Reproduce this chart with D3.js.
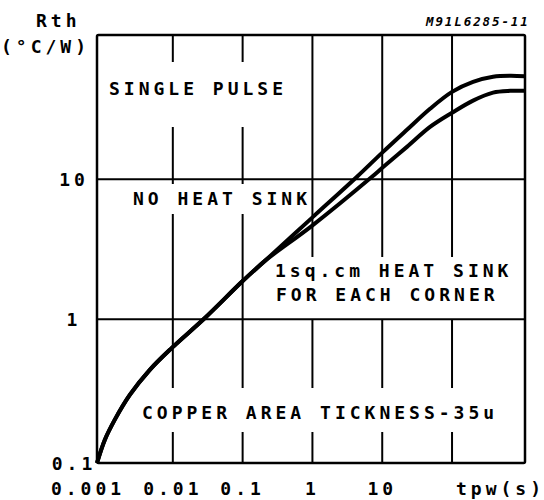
<!DOCTYPE html>
<html><head><meta charset="utf-8">
<script src="https://cdn.jsdelivr.net/npm/d3@7"></script>
<style>body{margin:0;background:#fff}svg{display:block}</style>
</head><body>
<script>
// ---- data ----
const xTickValues = [0.001, 0.01, 0.1, 1, 10];
const xTickLabels = ["0.001", "0.01", "0.1", "1", "10"];
const yTickValues = [0.1, 1, 10];
const yTickLabels = ["0.1", "1", "10"];
const xGridValues = [0.01, 0.1, 1, 10, 100];
const yGridValues = [1, 10];
// pulse time tpw (s) and Rth (°C/W)
const tCommon = [0.00082, 0.00106, 0.00147, 0.00242, 0.00468, 0.00968, 0.0288, 0.101, 0.209];
const rCommon = [0.094, 0.1374, 0.191, 0.288, 0.435, 0.624, 1.02, 1.88, 2.61];
const tNoSink = [0.983, 4.35, 9.92, 22.6, 48.4, 100, 200, 387, 679, 1114];
const rNoSink = [5.29, 10.4, 15.4, 22.5, 31.8, 42.0, 49.5, 53.8, 54.7, 54.2];
const tSink = [0.983, 7.13, 9.92, 22.6, 48.4, 100, 200, 387, 679, 1114];
const rSink = [4.64, 10.4, 12.0, 17.0, 23.6, 29.8, 36.4, 41.5, 42.7, 42.7];

const W = 544, H = 500;
const L = 97, R = 525, T = 35, B = 463;
const svg = d3.select("body").append("svg").attr("width", W).attr("height", H);

const x = d3.scaleLog().domain([0.00082, 1110]).range([L, R]);
const y = d3.scaleLog().domain([0.094, 107]).range([B, T]);

const FONT = "'DejaVu Sans Mono', monospace";
const FS = 18, LS = 4.0;

// texts inside plot, with the span of the grid break around them
const labels = [
  {t: "SINGLE PULSE", x: 109, y: 94.5, g0: 62, g1: 127},
  {t: "NO HEAT SINK", x: 133, y: 204.5, g0: 184, g1: 214},
  {t: "1sq.cm HEAT SINK", x: 275, y: 276.5, g0: 257, g1: 319},
  {t: "FOR EACH CORNER", x: 276, y: 300.5, g0: 257, g1: 319},
  {t: "COPPER AREA TICKNESS-35u", x: 142, y: 419, g0: 388, g1: 432}
];

function addText(g, d, anchor) {
  return g.append("text").attr("x", d.x).attr("y", d.y)
    .attr("font-family", FONT).attr("font-weight", "bold").attr("font-size", FS)
    .attr("letter-spacing", LS).attr("text-anchor", anchor || "start")
    .attr("fill", "#000").text(d.t);
}

const gText = svg.append("g");
const boxes = labels.map(d => {
  const b = addText(gText, d).node().getBBox();
  return {x0: b.x, x1: b.x + b.width - LS, g0: d.g0, g1: d.g1};
});

// gridlines with breaks around text
const gGrid = svg.insert("g", ":first-child");
xGridValues.forEach(v => {
  const xp = x(v);
  let segs = [[T, B]];
  boxes.forEach(b => {
    if (xp > b.x0 - 4 && xp < b.x1 + 4) {
      const out = [];
      segs.forEach(([a, c]) => {
        if (b.g1 <= a || b.g0 >= c) { out.push([a, c]); return; }
        if (b.g0 > a) out.push([a, b.g0]);
        if (b.g1 < c) out.push([b.g1, c]);
      });
      segs = out;
    }
  });
  segs.forEach(([a, c]) => gGrid.append("line").attr("x1", xp).attr("x2", xp).attr("y1", a).attr("y2", c)
    .attr("stroke", "#000").attr("stroke-width", 2));
});
yGridValues.forEach(v => {
  gGrid.append("line").attr("x1", L).attr("x2", R).attr("y1", y(v)).attr("y2", y(v))
    .attr("stroke", "#000").attr("stroke-width", 2);
});

// frame
svg.append("rect").attr("x", L).attr("y", T).attr("width", R - L).attr("height", B - T)
  .attr("fill", "none").attr("stroke", "#000").attr("stroke-width", 2.5).attr("rx", 1.5);

// curves
const line = d3.line().x(d => x(d[0])).y(d => y(d[1])).curve(d3.curveCatmullRom.alpha(0.5));
svg.append("clipPath").attr("id", "clip").append("rect").attr("x", L - 2).attr("y", T).attr("width", R - L + 2).attr("height", B - T + 2);
const gC = svg.append("g").attr("clip-path", "url(#clip)");
const series = [
  [tCommon.concat(tNoSink), rCommon.concat(rNoSink)],
  [tCommon.concat(tSink), rCommon.concat(rSink)]
];
series.forEach(([ts, rs]) => {
  gC.append("path").datum(ts.map((t, i) => [t, rs[i]])).attr("d", line)
    .attr("fill", "none").attr("stroke", "#000").attr("stroke-width", 4).attr("stroke-linejoin", "round");
});

// axis tick labels
const gAx = svg.append("g");
xTickValues.forEach((v, i) => {
  addText(gAx, {t: xTickLabels[i], x: (i === 0 ? 88 : x(v)) + LS / 2 - 2, y: 494.5}, "middle");
});
yTickValues.forEach((v, i) => {
  addText(gAx, {t: yTickLabels[i], x: 72 + LS / 2, y: (i === 0 ? B : y(v)) + 6.5}, "middle");
});
addText(gAx, {t: "tpw(s)", x: 456, y: 494.5});
addText(gAx, {t: "Rth", x: 36, y: 27});
addText(gAx, {t: "(°C/W)", x: 1, y: 53});
gAx.append("text").attr("x", 426).attr("y", 26).attr("font-family", FONT).attr("font-weight", "bold")
  .attr("font-style", "italic").attr("font-size", 12.5).attr("letter-spacing", 1.9).text("M91L6285-11");
</script>
</body></html>
